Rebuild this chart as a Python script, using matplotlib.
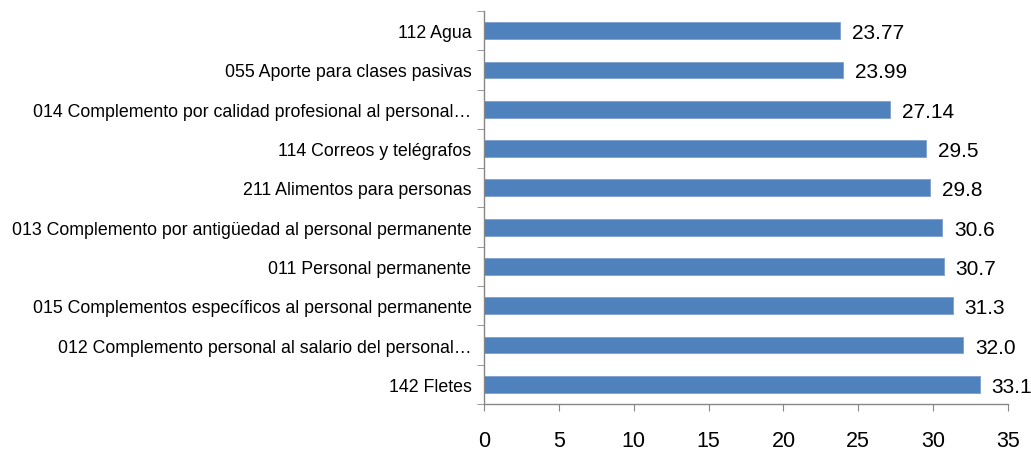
import matplotlib
matplotlib.use("Agg")
import matplotlib.pyplot as plt
import numpy as np

# Datos (de arriba hacia abajo)
categorias = [
    "112 Agua",
    "055 Aporte para clases pasivas",
    "014 Complemento por calidad profesional al personal\u2026",
    "114 Correos y telégrafos",
    "211 Alimentos para personas",
    "013 Complemento por antigüedad al personal permanente",
    "011 Personal permanente",
    "015 Complementos específicos al personal permanente",
    "012 Complemento personal al salario del personal\u2026",
    "142 Fletes",
]
valores = [23.77, 23.99, 27.14, 29.5, 29.8, 30.6, 30.7, 31.3, 32.0, 33.1]
etiquetas = ["23.77", "23.99", "27.14", "29.5", "29.8", "30.6", "30.7", "31.3", "32.0", "33.1"]
ticks_x = [0, 5, 10, 15, 20, 25, 30, 35]

plt.rcParams['font.family'] = ['Liberation Sans', 'DejaVu Sans']

fig = plt.figure(figsize=(10.31, 4.6), dpi=100)
ax = fig.add_axes([0.4695, 0.1196, 0.5082, 0.8543])

y = np.arange(len(categorias))
ax.barh(y, valores, height=0.43, color='#4F81BD', edgecolor='#7EA1CF', linewidth=0.6)

# etiquetas de valor al final de cada barra
for yi, v, t in zip(y, valores, etiquetas):
    ax.text(v + 0.8, yi + 0.05, t, va='center', ha='left', fontsize=15)

ax.set_ylim(len(categorias) - 0.5, -0.5)
ax.set_xlim(0, 35)
ax.set_xticks(ticks_x)
ax.set_xticklabels([str(t) for t in ticks_x], fontsize=15.5)

ax.set_yticks(y)
ax.set_yticklabels(categorias, fontsize=12.8)
ax.set_yticks(np.arange(-0.5, len(categorias)), minor=True)
ax.tick_params(axis='y', which='major', length=0, pad=9)
ax.tick_params(axis='y', which='minor', length=5, color='#868686', direction='out')
ax.tick_params(axis='x', length=5, color='#868686', direction='out', pad=14)

for s in ['top', 'right']:
    ax.spines[s].set_visible(False)
for s in ['left', 'bottom']:
    ax.spines[s].set_color('#868686')
    ax.spines[s].set_linewidth(1.0)

fig.savefig('out.png', dpi=100)
